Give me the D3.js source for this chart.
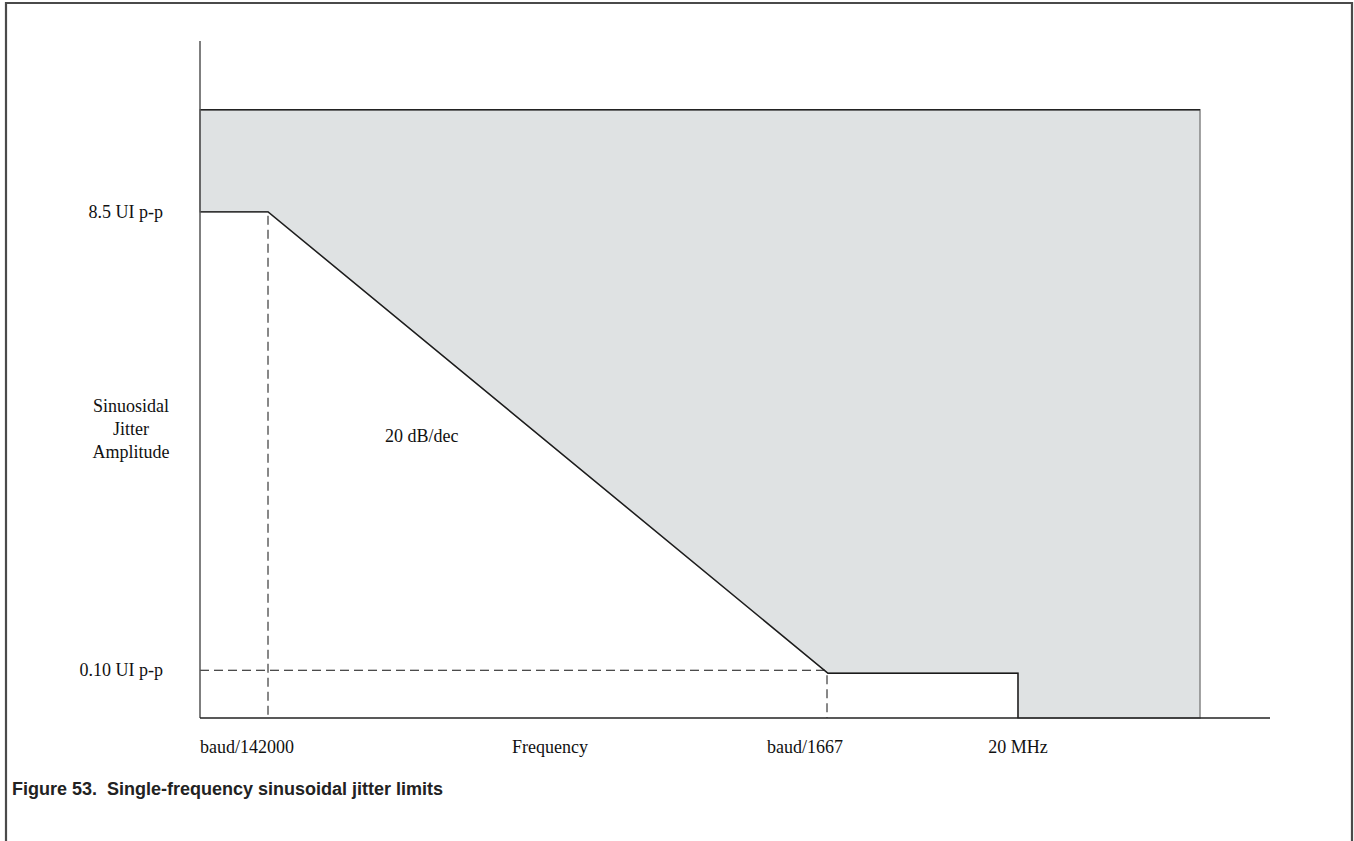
<!DOCTYPE html>
<html>
<head>
<meta charset="utf-8">
<script src="https://cdn.jsdelivr.net/npm/d3@7/dist/d3.min.js"></script>
<style>
  html, body { margin: 0; padding: 0; background: #fff; }
  svg { display: block; }
  .serif { font-family: "Liberation Serif", "Times New Roman", serif; font-size: 18px; fill: #111; }
  .caption { font-family: "Liberation Sans", Arial, sans-serif; font-weight: bold; font-size: 18px; fill: #222; white-space: pre; }
</style>
</head>
<body>
<svg id="chart" width="1354" height="841"></svg>
<script>
// ---- data ----
const baud = 3.125e9;                       // nominal baud rate (schematic)
const freqStops = [12.8e3, baud / 142000, baud / 1667, 20e6, 200e6, 500e6]; // Hz: axis start, knee1, knee2, 20 MHz, mask end, axis end
const ampStops = [0.065, 44];                // UI p-p: axis bottom, axis top
const maskUpper = 22.7;                      // UI p-p: upper edge of the shaded region
const limitFreq = [12.8e3, baud / 142000, baud / 1667, 20e6, 20e6];
const limitAmp  = [8.5, 8.5, 0.10, 0.10, 0.065];
const yTickValues = [8.5, 0.10];
const yTickLabels = ["8.5 UI p-p", "0.10 UI p-p"];
const xTickLabels = ["baud/142000", "baud/1667", "20 MHz"];
const yTitle = ["Sinuosidal", "Jitter", "Amplitude"];
const xTitle = "Frequency";
const slopeLabel = "20 dB/dec";
const caption = "Figure 53.  Single-frequency sinusoidal jitter limits";

// ---- scales ----
const x = d3.scaleLog().domain(freqStops).range([200, 268, 828, 1018, 1200, 1270]);
const y = d3.scaleLog().domain(ampStops).range([718, 41]);

const svg = d3.select("#chart");

// frame
svg.append("path")
  .attr("d", "M6,841 V3 H1352 V841")
  .attr("fill", "none").attr("stroke", "#4a4a4a").attr("stroke-width", 2.2);

// shaded (failing) region: above the limit line up to maskUpper, until mask end
const limitPts = limitFreq.map((f, i) => [f, limitAmp[i]]);
const fMaskEnd = freqStops[4];
const maskPts = [[freqStops[0], maskUpper], [fMaskEnd, maskUpper], [fMaskEnd, ampStops[0]]]
  .concat(limitPts.slice().reverse());
const line = d3.line().x(d => x(d[0])).y(d => y(d[1]));
svg.append("path")
  .attr("d", line(maskPts) + "Z")
  .attr("fill", "#dfe2e3")
  .attr("stroke", "#8c8c8c").attr("stroke-width", 1.6);

// top edge of the shaded region (black)
svg.append("path")
  .attr("d", line([[freqStops[0], maskUpper], [fMaskEnd, maskUpper]]))
  .attr("fill", "none").attr("stroke", "#222").attr("stroke-width", 1.4);

// guide dashes
const dash = "9,5";
svg.append("line")
  .attr("x1", x(freqStops[0])).attr("x2", x(limitFreq[2]))
  .attr("y1", y(0.10) - 3).attr("y2", y(0.10) - 3)
  .attr("stroke", "#111").attr("stroke-width", 1).attr("stroke-dasharray", dash);
svg.append("line")
  .attr("x1", x(limitFreq[1])).attr("x2", x(limitFreq[1]))
  .attr("y1", y(8.5) + 4).attr("y2", y(ampStops[0]))
  .attr("stroke", "#111").attr("stroke-width", 1).attr("stroke-dasharray", dash);
svg.append("line")
  .attr("x1", x(limitFreq[2]) - 1).attr("x2", x(limitFreq[2]) - 1)
  .attr("y1", y(0.10) + 2).attr("y2", y(ampStops[0]))
  .attr("stroke", "#111").attr("stroke-width", 1).attr("stroke-dasharray", dash);

// limit line
svg.append("path")
  .attr("d", line(limitPts))
  .attr("fill", "none").attr("stroke", "#1a1a1a").attr("stroke-width", 1.3);

// axes
svg.append("line")
  .attr("x1", x(freqStops[0])).attr("x2", x(freqStops[0]))
  .attr("y1", y(ampStops[1])).attr("y2", y(ampStops[0]))
  .attr("stroke", "#555").attr("stroke-width", 1.5);
svg.append("line")
  .attr("x1", x(freqStops[0])).attr("x2", x(freqStops[5]))
  .attr("y1", y(ampStops[0])).attr("y2", y(ampStops[0]))
  .attr("stroke", "#222").attr("stroke-width", 1.6);

// y tick labels
yTickValues.forEach((v, i) => {
  svg.append("text").attr("class", "serif")
    .attr("x", x(freqStops[0]) - 37).attr("y", y(v) + 6 - (i === 1 ? 3 : 0))
    .attr("text-anchor", "end").text(yTickLabels[i]);
});

// y title
yTitle.forEach((t, i) => {
  svg.append("text").attr("class", "serif")
    .attr("x", 131).attr("y", 412 + i * 23)
    .attr("text-anchor", "middle").text(t);
});

// slope label
svg.append("text").attr("class", "serif")
  .attr("x", 385).attr("y", 442).text(slopeLabel);

// x tick labels
const xl = 753;
svg.append("text").attr("class", "serif")
  .attr("x", x(freqStops[0])).attr("y", xl).attr("text-anchor", "start").text(xTickLabels[0]);
svg.append("text").attr("class", "serif")
  .attr("x", x(limitFreq[2]) + 15).attr("y", xl).attr("text-anchor", "end").text(xTickLabels[1]);
svg.append("text").attr("class", "serif")
  .attr("x", x(limitFreq[3])).attr("y", xl).attr("text-anchor", "middle").text(xTickLabels[2]);
svg.append("text").attr("class", "serif")
  .attr("x", 550).attr("y", xl).attr("text-anchor", "middle").text(xTitle);

// caption
svg.append("text").attr("class", "caption")
  .attr("x", 12).attr("y", 795).text(caption);
</script>
</body>
</html>
